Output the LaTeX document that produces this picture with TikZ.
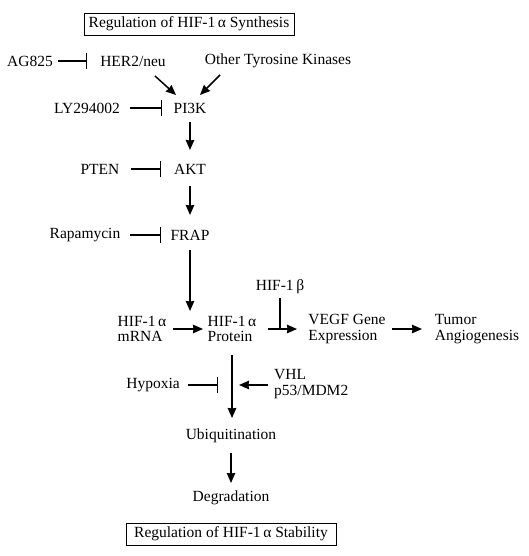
\documentclass[tikz,border=0pt]{standalone}
\usepackage{fontspec}
\setmainfont{Liberation Serif}
\usetikzlibrary{arrows.meta}
\begin{document}
\begin{tikzpicture}[x=1pt,y=-1pt,>={Stealth[length=10pt,width=8.5pt,inset=0.5pt]},
		every node/.style={inner sep=0pt,align=left,font=\fontsize{15.5}{15.5}\selectfont},
		act/.style={->,line width=1.5pt},
		inh/.style={-{Bar[width=16pt]},line width=1.1pt},
		titlebox/.style={draw,line width=0.9pt,minimum width=210pt,minimum height=22pt}]
		\useasboundingbox (0,0) rectangle (529,556);
		\node[titlebox] (syn) at (189,24) {Regulation of HIF-1\,α Synthesis};
		\node (ag) at (30,61) {AG825};
		\node (her) at (133,61) {HER2/neu};
		\node (otk) at (278,61) {Other Tyrosine Kinases};
		\node (ly) at (87,108) {LY294002};
		\node (pik) at (190,108) {PI3K};
		\node (pten) at (100,169) {PTEN};
		\node (akt) at (190,169) {AKT};
		\node (rapa) at (85,235) {Rapamycin};
		\node (frap) at (190,235) {FRAP};
		\node (mrna) at (142,329) {HIF-1\,α\\mRNA};
		\node (prot) at (232,329) {HIF-1\,α\\Protein};
		\node (hifb) at (280,287) {HIF-1\,β};
		\node (vegf) at (347,329) {VEGF Gene\\Expression};
		\node (tumor) at (477,329) {Tumor\\Angiogenesis};
		\node (hyp) at (153,385) {Hypoxia};
		\node[anchor=west] (vhl) at (274,384) {VHL\\p53/MDM2};
		\node (ubi) at (231,436) {Ubiquitination};
		\node (deg) at (231,498) {Degradation};
		\node[titlebox] (stab) at (231,534) {Regulation of HIF-1\,α Stability};
		% synthesis
		\draw[inh] (ag) ++(28,0) -- ++(29,0);
		\draw[act] (her) ++(22,15) -- ++(21,19);
		\draw[act] (otk) ++(-58,14) -- ++(-20,20);
		\draw[inh] (ly) ++(43,0) -- ++(32,0);
		\draw[act] (pik) ++(0,14) -- ++(0,28);
		\draw[inh] (pten) ++(31,0) -- ++(30,0);
		\draw[act] (akt) ++(0,17) -- ++(0,29);
		\draw[inh] (rapa) ++(45,0) -- ++(31,0);
		\draw[act] (frap) ++(0,15) -- ++(0,61);
		\draw[act] (mrna) ++(31,0) -- ++(30,0);
		\draw[act] (prot) ++(36,0) coordinate (j) -- ++(29,0);
		\draw[line width=1.1pt] (hifb) ++(0,11) -- (hifb |- j);
		\draw[act] (vegf) ++(45,0) -- ++(30,0);
		% stability
		\draw[act] (prot) ++(0,26) -- ++(0,63);
		\draw[inh] (hyp) ++(35,0) -- ++(30,0);
		\draw[act] (vhl.west) ++(-6,1) -- ++(-29,0);
		\draw[act] (ubi) ++(0,17) -- ++(0,30);
\end{tikzpicture}
\end{document}
